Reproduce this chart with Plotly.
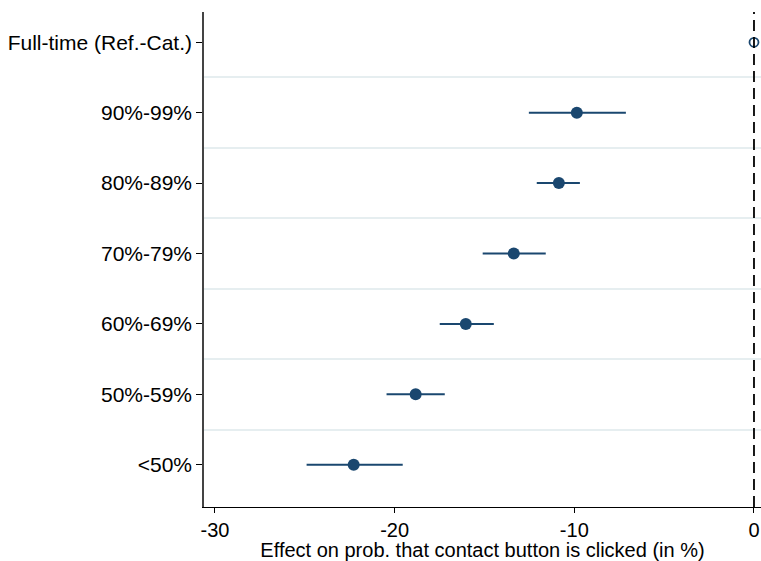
import plotly.graph_objects as go

categories = ["<50%", "50%-59%", "60%-69%", "70%-79%", "80%-89%", "90%-99%", "Full-time (Ref.-Cat.)"]
estimates = [-22.28, -18.83, -16.04, -13.37, -10.86, -9.86]
ci_low = [-24.9, -20.45, -17.49, -15.1, -12.09, -12.53]
ci_high = [-19.55, -17.21, -14.48, -11.59, -9.69, -7.13]
ref_value = 0.0
x_ticks = [-30, -20, -10, 0]

navy = "#1a476f"
ypos = list(range(len(categories)))

fig = go.Figure()
fig.add_shape(type="line", x0=0, x1=0, y0=0, y1=1, xref="x", yref="paper",
              line=dict(color="black", width=1.8, dash="11px,6px"), layer="above")
fig.add_trace(go.Scatter(
    x=estimates, y=ypos[:-1], mode="markers",
    marker=dict(color=navy, size=12),
    error_x=dict(type="data", symmetric=False,
                 array=[h - e for h, e in zip(ci_high, estimates)],
                 arrayminus=[e - l for e, l in zip(estimates, ci_low)],
                 color=navy, thickness=2, width=0),
    showlegend=False,
))
fig.add_trace(go.Scatter(
    x=[ref_value], y=[ypos[-1]], mode="markers", cliponaxis=False,
    marker=dict(symbol="circle-open", color=navy, size=9, line=dict(width=1.8, color=navy)),
    showlegend=False,
))

fig.update_layout(
    width=761, height=561,
    margin=dict(l=204, r=0, t=12, b=54),
    plot_bgcolor="white", paper_bgcolor="white",
    font=dict(family="Liberation Sans, Arial, sans-serif", color="black"),
    xaxis=dict(range=[-30.61, 0.39], tickvals=x_ticks, ticktext=[str(t) for t in x_ticks],
               showgrid=False, zeroline=False, showline=True, linecolor="black", linewidth=1,
               ticks="outside", ticklen=5, tickcolor="black", tickfont=dict(size=20),
               title=dict(text="Effect on prob. that contact button is clicked (in %)",
                          font=dict(size=20), standoff=1)),
    yaxis=dict(range=[-0.6, 6.43], tickvals=ypos, ticktext=categories,
               showgrid=False, zeroline=False, showline=True, linecolor="#444444", linewidth=1.5,
               ticks="outside", ticklen=6, tickcolor="black", tickfont=dict(size=21),
               minor=dict(tickvals=[i + 0.5 for i in ypos[:-1]], showgrid=True,
                          gridcolor="#e6eef0", gridwidth=1.5, ticklen=0)),
)
fig.write_html("out.html", config={"displayModeBar": False},
               post_script="document.body.style.margin='0';document.body.style.overflow='hidden';")
